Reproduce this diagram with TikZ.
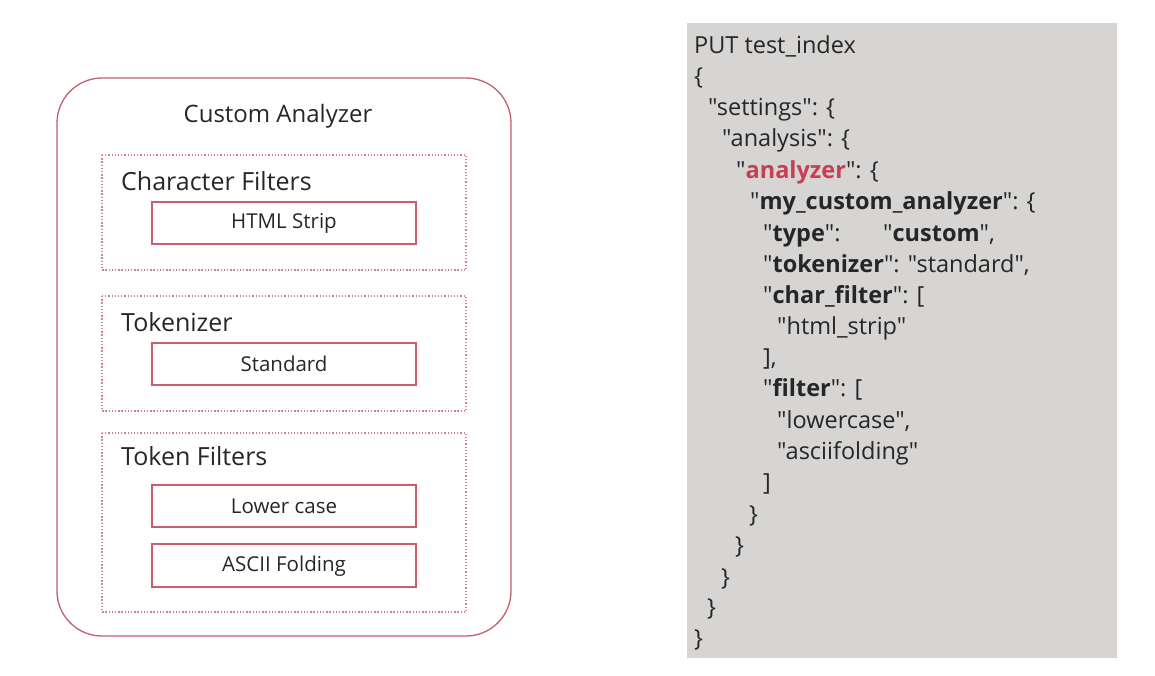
\documentclass[tikz,border=0pt]{standalone}
\usepackage{fontspec}
\setmainfont{Open Sans}[Ligatures=TeXOff]
\usepackage{tikz}
\definecolor{boxred}{RGB}{196,96,112}
\definecolor{dotred}{RGB}{212,128,142}
\definecolor{keyred}{RGB}{196,64,82}
\definecolor{codegray}{RGB}{214,213,212}
\definecolor{ink}{RGB}{38,38,38}

\begin{document}
\begin{tikzpicture}[x=1pt, y=-1pt,
  stage/.style={draw=dotred, line width=1.3pt, dash pattern=on 1.3pt off 1.9pt},
  filterbox/.style={draw=boxred, line width=1.2pt},
  stagelabel/.style={anchor=west, inner sep=0pt, text=ink, font=\fontsize{25}{30}\selectfont},
  filterlabel/.style={inner sep=0pt, text=ink, font=\fontsize{20.5}{24}\selectfont},
  code/.style={anchor=base west, inner sep=0pt, text=ink, font=\fontsize{23.5}{28}\selectfont}]
\useasboundingbox (0,0) rectangle (1155,675);

%% analyzer pipeline
\draw[rounded corners=45pt, draw=boxred, line width=1.3pt] (57,78) rectangle (511,636);
\draw (278,116) node[inner sep=0pt, text=ink, font=\fontsize{24}{28}\selectfont] (analyzer title) {Custom Analyzer};

\draw[stage] (102,155) rectangle (466,270);
\draw (121,181) node[stagelabel] (char stage) {Character Filters};
\draw[filterbox] (152,202) rectangle (416,244);
\draw (284,223) node[filterlabel] (html strip) {HTML Strip};

\draw[stage] (102,296) rectangle (466,411);
\draw (121,322) node[stagelabel] (token stage) {Tokenizer};
\draw[filterbox] (152,343) rectangle (416,385);
\draw (284,364) node[filterlabel] (standard) {Standard};

\draw[stage] (102,433) rectangle (466,612);
\draw (121,456) node[stagelabel] (filter stage) {Token Filters};
\draw[filterbox] (152,485) rectangle (416,527);
\draw (284,506) node[filterlabel] (lower case) {Lower case};
\draw[filterbox] (152,544) rectangle (416,587);
\draw (284,566) node[filterlabel] (ascii folding) {ASCII Folding};

%% request body
\fill[codegray] (687,23) rectangle (1117,658);
\draw (694,53) node[code] (put) {PUT test\_index};
\draw (694,84) node[code] (open) {\{};
\draw (708,115) node[code] (settings) {"settings": \{};
\draw (722,146) node[code] (analysis) {"analysis": \{};
\draw (736,178) node[code] (analyzer key) {"\textbf{\color{keyred}analyzer}": \{};
\draw (750,209) node[code] (my analyzer) {"\textbf{my\_custom\_analyzer}": \{};
\draw (763,241) node[code] (type) {\makebox[120pt][l]{"\textbf{type}":}"\textbf{custom}",};
\draw (763,272) node[code] (tokenizer) {"\textbf{tokenizer}": "standard",};
\draw (763,303) node[code] (char filter) {"\textbf{char\_filter}": [};
\draw (777,334) node[code] (html) {"html\_strip"};
\draw (763,365) node[code] (close char) {],};
\draw (763,396) node[code] (filter) {"\textbf{filter}": [};
\draw (777,428) node[code] (lowercase) {"lowercase",};
\draw (777,459) node[code] (asciifolding) {"asciifolding"};
\draw (763,490) node[code] (close filter) {]};
\draw (749,522) node[code] (close my) {\}};
\draw (735,553) node[code] (close analyzer) {\}};
\draw (721,585) node[code] (close analysis) {\}};
\draw (707,615) node[code] (close settings) {\}};
\draw (694,646) node[code] (close) {\}};
\end{tikzpicture}
\end{document}
